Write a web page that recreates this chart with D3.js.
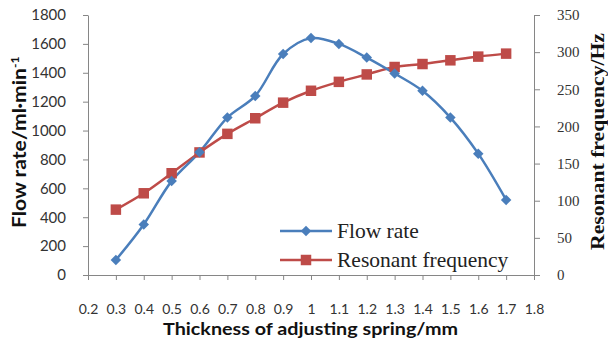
<!DOCTYPE html>
<html>
<head>
<meta charset="utf-8">
<script src="https://cdn.jsdelivr.net/npm/d3@7"></script>
<style>
  html, body { margin: 0; padding: 0; background: #fff; }
  svg { display: block; }
</style>
</head>
<body>
<div id="chart"></div>
<script>
// thickness of adjusting spring (mm)
const thickness = [0.3, 0.4, 0.5, 0.6, 0.7, 0.8, 0.9, 1.0, 1.1, 1.2, 1.3, 1.4, 1.5, 1.6, 1.7];
// flow rate (ml/min), left axis
const flowRate = [104, 350, 650, 850, 1090, 1240, 1530, 1640, 1600, 1505, 1395, 1275, 1090, 840, 520];
// resonant frequency (Hz), right axis
const resFreq = [88, 110, 137, 165, 190, 211, 232, 248, 260, 270, 280, 284, 289, 294, 298];

const xTicks = d3.range(0.2, 1.81, 0.1).map(v => Math.round(v * 10) / 10);
const leftTicks = d3.range(0, 1801, 200);
const rightTicks = d3.range(0, 351, 50);

const W = 608, H = 340;
const plotL = 88, plotR = 534, plotT = 15, plotB = 275;

const svg = d3.select('#chart').append('svg')
  .attr('width', W).attr('height', H)
  .attr('viewBox', `0 0 ${W} ${H}`);

const x = d3.scaleLinear().domain([0.2, 1.8]).range([plotL, plotR]);
const yL = d3.scaleLinear().domain([0, 1800]).range([plotB, plotT]);
const yR = d3.scaleLinear().domain([0, 350]).range([plotB, plotT]);

const axisColor = '#868686';
const sans = 'Lato, "Open Sans", sans-serif';
const serif = '"Liberation Serif", "DejaVu Serif", serif';

function styleAxis(g) {
  g.select('.domain').attr('stroke', axisColor);
  g.selectAll('.tick line').attr('stroke', axisColor);
  g.selectAll('.tick text').attr('fill', '#333');
}

// x axis
svg.append('g')
  .attr('transform', `translate(0,${plotB})`)
  .call(d3.axisBottom(x).tickValues(xTicks).tickSize(5).tickSizeOuter(0)
    .tickFormat(d => String(d)))
  .call(styleAxis)
  .call(g => g.selectAll('.tick text')
    .attr('font-family', sans).attr('font-size', 14).attr('dy', null).attr('y', 39));

// left axis
svg.append('g')
  .attr('transform', `translate(${plotL},0)`)
  .call(d3.axisLeft(yL).tickValues(leftTicks).tickSize(5).tickSizeOuter(0)
    .tickFormat(d => String(d)))
  .call(styleAxis)
  .call(g => g.selectAll('.tick text')
    .attr('font-family', sans).attr('font-size', 15).attr('x', -22));

// right axis
svg.append('g')
  .attr('transform', `translate(${plotR},0)`)
  .call(d3.axisRight(yR).tickValues(rightTicks).tickSize(6).tickSizeOuter(0))
  .call(styleAxis)
  .call(g => g.selectAll('.tick text')
    .attr('font-family', serif).attr('font-size', 15).attr('x', 23));

// titles
svg.append('text')
  .attr('x', 163).attr('y', 335)
  .attr('font-family', sans).attr('font-weight', 700).attr('font-size', 17)
  .attr('textLength', 295).attr('lengthAdjust', 'spacingAndGlyphs')
  .attr('fill', '#111')
  .text('Thickness of adjusting spring/mm');

const yt = svg.append('text')
  .attr('transform', 'translate(26,228) rotate(-90)')
  .attr('font-family', sans).attr('font-weight', 700).attr('font-size', 18)
  .attr('fill', '#111');
yt.append('tspan').attr('textLength', 160).attr('lengthAdjust', 'spacingAndGlyphs')
  .text('Flow rate/ml·min');
yt.append('tspan').attr('dy', -7).attr('font-size', 12).text('-1');

svg.append('text')
  .attr('transform', 'translate(604,250) rotate(-90)')
  .attr('font-family', serif).attr('font-weight', 700).attr('font-size', 19)
  .attr('textLength', 217).attr('lengthAdjust', 'spacingAndGlyphs')
  .attr('fill', '#111')
  .text('Resonant frequency/Hz');

// series
const blue = '#4A7EBB', red = '#BE4B48';
const flowPts = thickness.map((t, i) => [x(t), yL(flowRate[i])]);
const freqPts = thickness.map((t, i) => [x(t), yR(resFreq[i])]);
const line = d3.line().curve(d3.curveCatmullRom.alpha(0.5));

svg.append('path').attr('d', line(freqPts))
  .attr('fill', 'none').attr('stroke', red).attr('stroke-width', 2.5);
svg.append('path').attr('d', line(flowPts))
  .attr('fill', 'none').attr('stroke', blue).attr('stroke-width', 2.5);

const square = d3.symbol().type(d3.symbolSquare).size(110);
const diamond = d3.symbol().type(d3.symbolSquare).size(55);

svg.append('g').selectAll('path').data(freqPts).join('path')
  .attr('transform', d => `translate(${d[0]},${d[1]})`)
  .attr('d', square).attr('fill', red);
svg.append('g').selectAll('path').data(flowPts).join('path')
  .attr('transform', d => `translate(${d[0]},${d[1]}) rotate(45)`)
  .attr('d', diamond).attr('fill', blue);

// legend
const legend = [
  { name: 'Flow rate', color: blue, shape: 'diamond' },
  { name: 'Resonant frequency', color: red, shape: 'square' },
];
legend.forEach((d, i) => {
  const ly = 231 + i * 29;
  svg.append('line').attr('x1', 280).attr('x2', 332).attr('y1', ly).attr('y2', ly)
    .attr('stroke', d.color).attr('stroke-width', 2.5);
  svg.append('path')
    .attr('transform', `translate(306,${ly})` + (d.shape === 'diamond' ? ' rotate(45)' : ''))
    .attr('d', d.shape === 'diamond' ? diamond : square)
    .attr('fill', d.color);
  svg.append('text').attr('x', 337).attr('y', ly + 7)
    .attr('font-family', serif).attr('font-size', 21.5).attr('fill', '#222')
    .text(d.name);
});
</script>
</body>
</html>
